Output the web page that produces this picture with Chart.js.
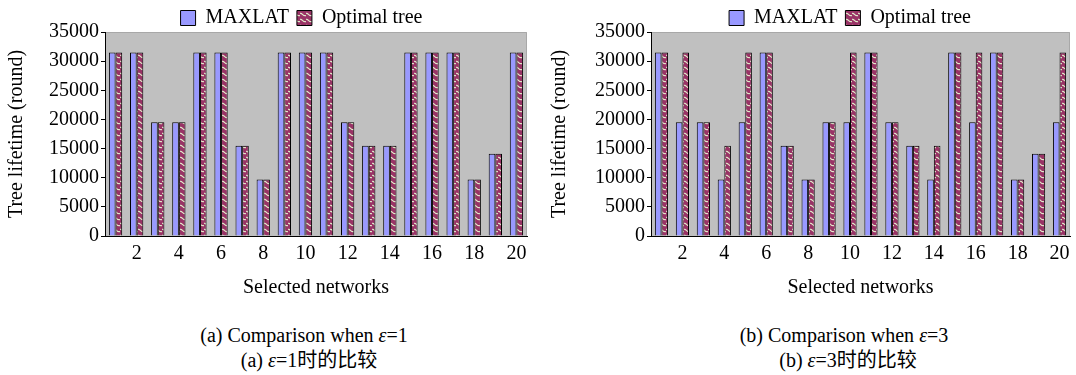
<!DOCTYPE html>
<html>
<head>
<meta charset="utf-8">
<script src="https://cdn.jsdelivr.net/npm/chart.js@4.4.1/dist/chart.umd.min.js"></script>
<style>
  body { margin: 0; width: 1076px; height: 375px; background: #fff; overflow: hidden; position: relative; }
  .panel { position: absolute; top: 0; height: 300px; }
  .cap { position: absolute; width: 400px; text-align: center; font: 20px/24px "Liberation Serif", "Noto Sans CJK SC", serif; color: #000; white-space: nowrap; }
  .cap .zh { font-family: "Liberation Serif", "Noto Sans CJK SC", serif; }
</style>
</head>
<body>
<div class="panel" style="left:0;width:540px"><canvas id="chartA"></canvas></div>
<div class="panel" style="left:540px;width:536px"><canvas id="chartB"></canvas></div>

<div class="cap" style="left:104px;top:323px">(a) Comparison when <i>ε</i>=1</div>
<div class="cap" style="left:109px;top:348px">(a) <i>ε</i>=1<span class="zh">时的比较</span></div>
<div class="cap" style="left:644px;top:323px">(b) Comparison when <i>ε</i>=3</div>
<div class="cap" style="left:648px;top:348px">(b) <i>ε</i>=3<span class="zh">时的比较</span></div>

<script>
// Networks on the x axis (only even ones get a label)
const networks = ['1', '2', '3', '4', '5', '6', '7', '8', '9', '10',
                  '11', '12', '13', '14', '15', '16', '17', '18', '19', '20'];

// Tree lifetime (round), epsilon = 1
const maxlatEps1 = [31500, 31500, 19500, 19500, 31500, 31500, 15500, 9700, 31500, 31500,
                    31500, 19500, 15500, 15500, 31500, 31500, 31500, 9700, 14100, 31500];
const optimalEps1 = [31500, 31500, 19500, 19500, 31500, 31500, 15500, 9700, 31500, 31500,
                     31500, 19500, 15500, 15500, 31500, 31500, 31500, 9700, 14100, 31500];

// Tree lifetime (round), epsilon = 3
const maxlatEps3 = [31500, 19500, 19500, 9700, 19500, 31500, 15500, 9700, 19500, 19500,
                    31500, 19500, 15500, 9700, 31500, 19500, 31500, 9700, 14100, 19500];
const optimalEps3 = [31500, 31500, 19500, 15500, 31500, 31500, 15500, 9700, 19500, 31500,
                     31500, 19500, 15500, 15500, 31500, 31500, 31500, 9700, 14100, 31500];

const yTicks = [0, 5000, 10000, 15000, 20000, 25000, 30000, 35000];

const FONT = '"Liberation Serif", "Times New Roman", serif';

// Excel style wavy fill for the "Optimal tree" bars
function wavyPattern(ctx) {
    const tile = document.createElement('canvas');
    tile.width = 6;
    tile.height = 6;
    const p = tile.getContext('2d');
    p.fillStyle = '#993366';
    p.fillRect(0, 0, 6, 6);
    p.strokeStyle = '#E2ECCB';
    p.lineWidth = 1.2;
    p.beginPath();
    p.moveTo(0, 1.5);
    p.bezierCurveTo(2, 0, 3, 5, 6, 3.5);
    p.stroke();
    return ctx.createPattern(tile, 'repeat');
}

// grey plot area like the original
const plotBackground = {
    id: 'plotBackground',
    beforeDraw(chart) {
        const { ctx, chartArea: a } = chart;
        ctx.save();
        ctx.fillStyle = '#C0C0C0';
        ctx.fillRect(a.left, a.top, a.right - a.left, a.bottom - a.top);
        ctx.strokeStyle = '#A8A8A8';
        ctx.lineWidth = 1;
        ctx.beginPath();
        ctx.moveTo(a.left, a.top + 0.5);
        ctx.lineTo(a.right - 0.5, a.top + 0.5);
        ctx.lineTo(a.right - 0.5, a.bottom);
        ctx.stroke();
        ctx.restore();
    }
};

// fixed legend height and horizontal shift
const legendPlace = {
    id: 'legendPlace',
    beforeLayout(chart, args, opts) {
        const lg = chart.legend;
        if (lg && !lg._patched) {
            const fit = lg.fit;
            lg.fit = function () {
                fit.call(this);
                this.height = opts.height;
            };
            lg._patched = true;
        }
    },
    afterLayout(chart, args, opts) {
        chart.legend.left += opts.shift;
        chart.legend.right += opts.shift;
    }
};

function makeChart(id, maxlat, optimal, cfg) {
    const ctx = document.getElementById(id).getContext('2d');
    return new Chart(ctx, {
        type: 'bar',
        data: {
            labels: networks,
            datasets: [{
                label: 'MAXLAT',
                data: maxlat,
                backgroundColor: '#9999FF',
                borderColor: '#000',
                borderWidth: 1
            }, {
                label: 'Optimal tree',
                data: optimal,
                backgroundColor: wavyPattern(ctx),
                borderColor: '#000',
                borderWidth: 1
            }]
        },
        options: {
            responsive: true,
            maintainAspectRatio: false,
            animation: false,
            layout: { padding: { left: 0, right: cfg.padRight, top: 0, bottom: 0 } },
            datasets: { bar: { categoryPercentage: 0.63, barPercentage: 1.0 } },
            plugins: {
                tooltip: { enabled: false },
                legend: {
                    position: 'top',
                    labels: {
                        boxWidth: 15,
                        boxHeight: 15,
                        padding: 8,
                        color: '#000',
                        font: { family: FONT, size: 20 }
                    }
                },
                legendPlace: { height: 32, shift: cfg.legendShift }
            },
            scales: {
                x: {
                    grid: { display: false, drawTicks: false },
                    border: { color: '#000', width: 1 },
                    ticks: {
                        autoSkip: false,
                        maxRotation: 0,
                        padding: 6,
                        color: '#000',
                        font: { family: FONT, size: 20 },
                        callback: (value, index) => (index % 2 === 1 ? networks[index] : '')
                    },
                    title: {
                        display: true,
                        text: 'Selected networks',
                        color: '#000',
                        font: { family: FONT, size: 20 },
                        padding: { top: 4, bottom: 0 }
                    },
                    afterFit(scale) { scale.height = 64; }
                },
                y: {
                    min: yTicks[0],
                    max: yTicks[yTicks.length - 1],
                    afterBuildTicks(scale) { scale.ticks = yTicks.map(v => ({ value: v })); },
                    grid: { drawOnChartArea: false, drawTicks: true, tickLength: 4, color: '#000' },
                    border: { color: '#000', width: 1 },
                    ticks: {
                        padding: 2,
                        color: '#000',
                        font: { family: FONT, size: 20 },
                        callback: value => String(value)
                    },
                    title: {
                        display: true,
                        text: 'Tree lifetime (round)',
                        color: '#000',
                        font: { family: FONT, size: 20 },
                        padding: { top: cfg.titlePad, bottom: 0 }
                    },
                    afterFit(scale) { scale.width = cfg.yWidth; }
                }
            }
        },
        plugins: [plotBackground, legendPlace]
    });
}

function init() {
    makeChart('chartA', maxlatEps1, optimalEps1, { yWidth: 105, padRight: 13, legendShift: 38, titlePad: 5 });
    makeChart('chartB', maxlatEps3, optimalEps3, { yWidth: 111, padRight: 6, legendShift: 45, titlePad: 8 });
}

document.addEventListener('DOMContentLoaded', init);
</script>
</body>
</html>
